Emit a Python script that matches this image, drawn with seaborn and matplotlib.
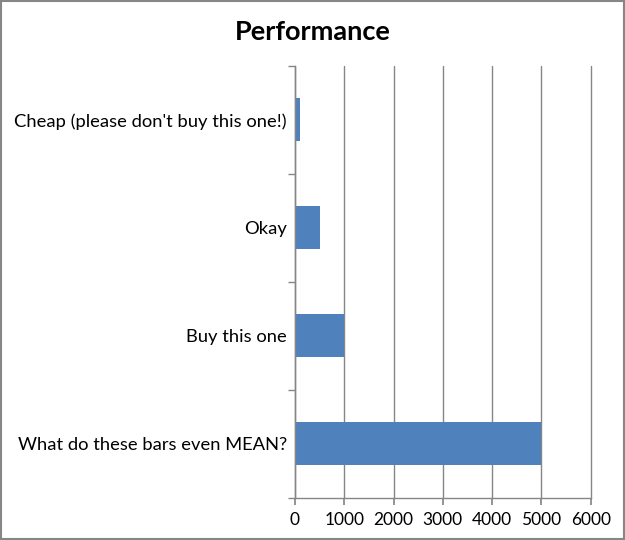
import matplotlib
matplotlib.use("Agg")
import matplotlib.pyplot as plt
import seaborn as sns
import pandas as pd
from matplotlib.patches import Rectangle

categories = ["Cheap (please don't buy this one!)", "Okay", "Buy this one",
              "What do these bars even MEAN?"]
values = [100, 500, 1000, 5000]
x_ticks = [0, 1000, 2000, 3000, 4000, 5000, 6000]

df = pd.DataFrame({"category": categories, "value": values})

sns.set_theme(style="white")
plt.rcParams['font.family'] = ['Lato', 'DejaVu Sans']

fig = plt.figure(figsize=(6.25, 5.4), dpi=100)
ax = fig.add_axes([0.472, 0.078, 0.473, 0.8])

sns.barplot(data=df, y="category", x="value", orient="h", color="#4F81BD",
            saturation=1, width=0.4, ax=ax, linewidth=0)

ax.set_xlim(0, 6000)
ax.set_ylim(3.5, -0.5)
ax.set_xticks(x_ticks)
ax.set_xticklabels([str(t) for t in x_ticks], fontsize=12.5, color="black")
for lab in ax.get_yticklabels():
    lab.set_color("black")
ax.set_xlabel("")
ax.set_ylabel("")
ax.tick_params(axis="y", length=0, labelsize=13.2, pad=6, labelcolor="black")
ax.tick_params(axis="x", length=5, direction="out", color="#868686",
               bottom=True, labelsize=12.5, pad=5, labelcolor="black")
ax.set_yticks([-0.5, 0.5, 1.5, 2.5, 3.5], minor=True)
ax.tick_params(axis="y", which="minor", length=5, direction="out",
               color="#868686", left=True)
ax.grid(axis="x", color="#868686", linewidth=1)
for gl in ax.get_xgridlines():
    gl.set_clip_on(False)
ax.set_axisbelow(True)
for s in ["top", "right"]:
    ax.spines[s].set_visible(False)
for s in ["left", "bottom"]:
    ax.spines[s].set_color("#868686")
    ax.spines[s].set_linewidth(1)

fig.text(0.5, 0.94, "Performance", ha="center", va="center",
         fontsize=19.5, fontweight="bold", color="black")

fig.patches.append(Rectangle((0.001, 0.001), 0.998, 0.998, transform=fig.transFigure,
                             fill=False, edgecolor="#868686", linewidth=1.5))

fig.savefig("out.png", dpi=100)
